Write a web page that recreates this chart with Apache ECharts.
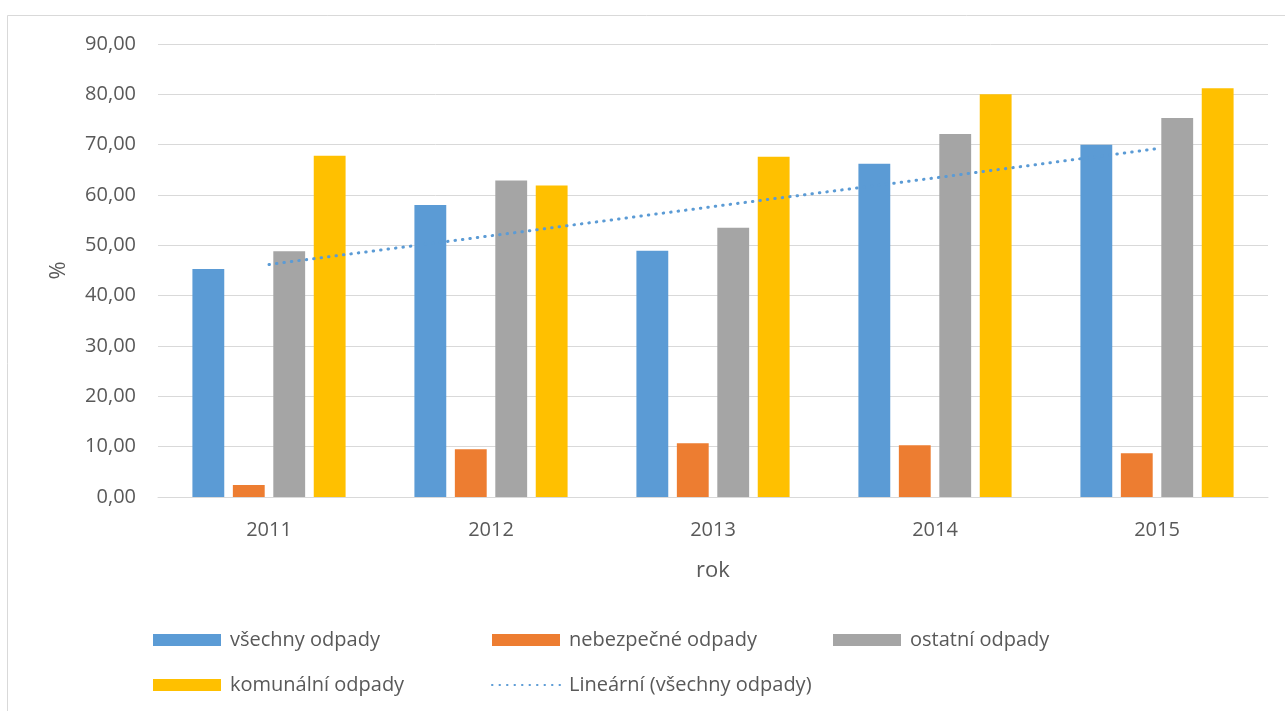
<!DOCTYPE html>
<html>
<head>
<meta charset="utf-8">
<script src="https://cdn.jsdelivr.net/npm/echarts@6/dist/echarts.min.js"></script>
<style>
html,body{margin:0;padding:0;background:#fff;}
#chart{width:1285px;height:711px;}
</style>
</head>
<body>
<div id="chart"></div>
<script>
const categories = ['2011', '2012', '2013', '2014', '2015'];
const vsechny = [45.3, 58.0, 48.9, 66.2, 70.0];
const nebezpecne = [2.4, 9.5, 10.7, 10.3, 8.7];
const ostatni = [48.8, 62.9, 53.5, 72.1, 75.3];
const komunalni = [67.8, 61.9, 67.6, 80.0, 81.2];
const trend = [46.2, 51.9, 57.7, 63.4, 69.2];
const seriesNames = ['všechny odpady', 'nebezpečné odpady', 'ostatní odpady', 'komunální odpady', 'Lineární (všechny odpady)'];
const yTicks = { min: 0, max: 90, interval: 10 };

const font = 'Open Sans';
const txt = '#595959';
const chart = echarts.init(document.getElementById('chart'), null, { renderer: 'canvas' });

const legendBase = {
  orient: 'vertical',
  itemWidth: 68,
  itemHeight: 12,
  itemGap: 25,
  icon: 'rect',
  textStyle: { color: txt, fontFamily: font, fontSize: 20, padding: [0, 0, 0, 4] },
  selectedMode: false
};

chart.setOption({
  animation: false,
  backgroundColor: '#fff',
  graphic: [{
    type: 'rect',
    shape: { x: 7.5, y: 15.5, width: 1300, height: 720 },
    style: { fill: 'none', stroke: '#d9d9d9', lineWidth: 1 },
    silent: true
  }],
  legend: [
    Object.assign({}, legendBase, { left: 148, top: 625, data: [seriesNames[0], seriesNames[3]] }),
    Object.assign({}, legendBase, { left: 486, top: 625, icon: null, data: [
      { name: seriesNames[1], icon: 'rect' },
      { name: seriesNames[4], itemStyle: { opacity: 0 } }
    ] }),
    Object.assign({}, legendBase, { left: 828, top: 625, data: [seriesNames[2]] })
  ],
  grid: { left: 158, right: 17, top: 44, bottom: 214 },
  xAxis: {
    type: 'category',
    data: categories,
    name: 'rok',
    nameLocation: 'middle',
    nameGap: 63,
    nameTextStyle: { color: txt, fontFamily: font, fontSize: 22 },
    axisLine: { lineStyle: { color: '#d9d9d9', width: 1 } },
    axisTick: { show: false },
    axisLabel: { color: txt, fontFamily: font, fontSize: 20, margin: 23 }
  },
  yAxis: {
    type: 'value',
    min: yTicks.min,
    max: yTicks.max,
    interval: yTicks.interval,
    name: '%',
    nameLocation: 'middle',
    nameGap: 88,
    nameRotate: 90,
    nameTextStyle: { color: txt, fontFamily: font, fontSize: 22 },
    axisLine: { show: false },
    axisTick: { show: false },
    splitLine: { lineStyle: { color: '#d9d9d9', width: 1 } },
    axisLabel: {
      color: txt, fontFamily: font, fontSize: 20, margin: 22,
      formatter: v => v.toFixed(2).replace('.', ',')
    }
  },
  series: [
    { name: seriesNames[0], type: 'bar', data: vsechny, itemStyle: { color: '#5b9bd5' }, barGap: '27%', barCategoryGap: '31%' },
    { name: seriesNames[1], type: 'bar', data: nebezpecne, itemStyle: { color: '#ed7d31' } },
    { name: seriesNames[2], type: 'bar', data: ostatni, itemStyle: { color: '#a5a5a5' } },
    { name: seriesNames[3], type: 'bar', data: komunalni, itemStyle: { color: '#ffc000' } },
    {
      name: seriesNames[4], type: 'line', data: trend,
      symbol: 'none', showSymbol: false, z: 5,
      itemStyle: { color: '#5b9bd5' },
      lineStyle: { color: '#5b9bd5', width: 3, type: [0.5, 7], cap: 'round' }
    }
  ]
});
</script>
</body>
</html>
